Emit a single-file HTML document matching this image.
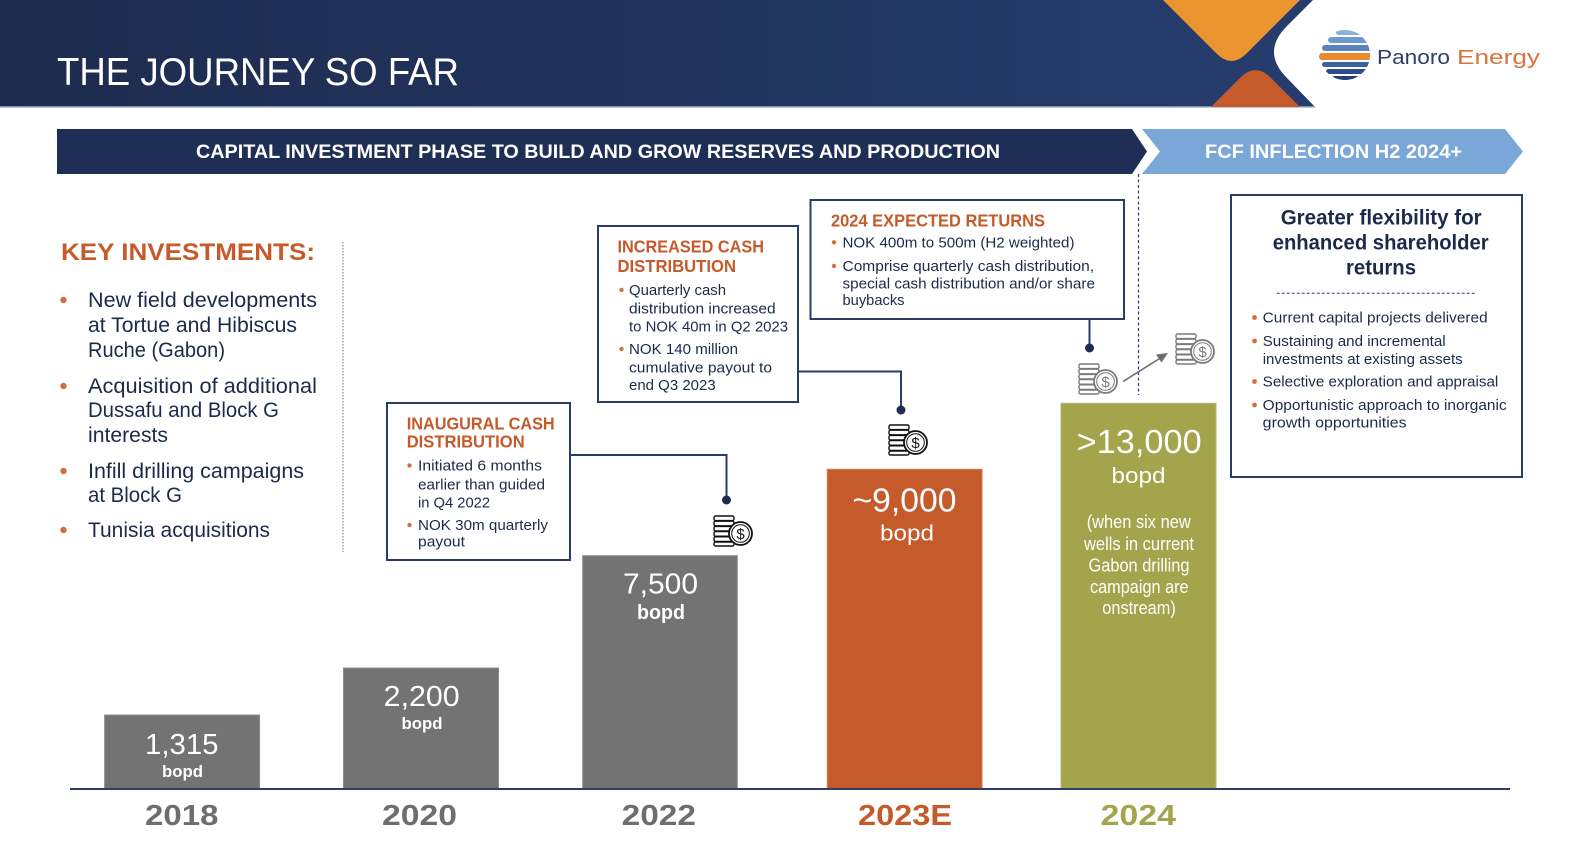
<!DOCTYPE html>
<html><head><meta charset="utf-8"><style>
html,body{margin:0;padding:0;background:#fff;}
svg{display:block;}
text{font-family:"Liberation Sans",sans-serif;}
</style></head><body>
<svg width="1590" height="859" viewBox="0 0 1590 859" xmlns="http://www.w3.org/2000/svg">
<defs>
<linearGradient id="hg" x1="0" y1="0" x2="1" y2="0">
<stop offset="0" stop-color="#1E2B4E"/><stop offset="0.8" stop-color="#253C6D"/><stop offset="1" stop-color="#263E70"/>
</linearGradient>
<clipPath id="globe"><circle cx="1345" cy="55" r="25"/></clipPath>
</defs>
<!-- header -->
<rect x="0" y="0" width="1590" height="107" fill="url(#hg)"/>
<rect x="0" y="106" width="1320" height="1.5" fill="#7F8DAE"/>
<path d="M1163,0 L1300,0 L1246.5,53.5 Q1231.5,68.5 1216.5,53.5 Z" fill="#EC9430"/>
<path d="M1211,107 L1240.5,77.5 Q1255.5,62.5 1270.5,77.5 L1300,107 Z" fill="#C55A2B"/>
<path d="M1313,0 L1590,0 L1590,108 L1316,108 L1287,78 Q1261,52 1287,26 Z" fill="#fff"/>
<text x="57" y="85" font-size="39" fill="#fff" textLength="402" lengthAdjust="spacingAndGlyphs">THE JOURNEY SO FAR</text>
<!-- logo -->
<g clip-path="url(#globe)">
<rect x="1336" y="30" width="40" height="5" rx="2.5" fill="#8DB0DC"/>
<rect x="1328" y="37" width="48" height="6" rx="3" fill="#6F9AD0"/>
<rect x="1322" y="45" width="54" height="6" rx="3" fill="#5A84C0"/>
<rect x="1318" y="53" width="58" height="7" rx="3.5" fill="#E98A2C"/>
<rect x="1322" y="62" width="54" height="5" rx="2.5" fill="#3A5FA2"/>
<rect x="1326" y="69" width="50" height="5" rx="2.5" fill="#2C4C8C"/>
<rect x="1332" y="76" width="44" height="5" rx="2.5" fill="#243E78"/>
</g>
<rect x="1319" y="53" width="20" height="7" rx="3.5" fill="#E98A2C"/>
<text x="1377" y="64" font-size="20" fill="#2D3E6B" textLength="73" lengthAdjust="spacingAndGlyphs">Panoro</text>
<text x="1457" y="64" font-size="20" fill="#D9733A" textLength="83" lengthAdjust="spacingAndGlyphs">Energy</text>
<!-- banners -->
<polygon points="57,129 1132,129 1147,151.5 1132,174 57,174" fill="#1F2E55"/>
<text x="196" y="158" font-size="19.5" font-weight="bold" fill="#fff" textLength="804" lengthAdjust="spacingAndGlyphs">CAPITAL INVESTMENT PHASE TO BUILD AND GROW RESERVES AND PRODUCTION</text>
<polygon points="1142,129 1505,129 1523,151.5 1505,174 1142,174 1160,151.5" fill="#7BA7D8"/>
<text x="1205" y="158" font-size="19.5" font-weight="bold" fill="#fff" textLength="257" lengthAdjust="spacingAndGlyphs">FCF INFLECTION H2 2024+</text>
<!-- key investments -->
<text x="61" y="260" font-size="24" font-weight="bold" fill="#C55A2B" textLength="254" lengthAdjust="spacingAndGlyphs">KEY INVESTMENTS:</text>
<g fill="#D0703D">
<circle cx="63.5" cy="300" r="3.2"/><circle cx="63.5" cy="386" r="3.2"/><circle cx="63.5" cy="471" r="3.2"/><circle cx="63.5" cy="530" r="3.2"/>
</g>
<g font-size="21" fill="#1C2A4A">
<text x="88" y="307" textLength="229" lengthAdjust="spacingAndGlyphs">New field developments</text>
<text x="88" y="332" textLength="209" lengthAdjust="spacingAndGlyphs">at Tortue and Hibiscus</text>
<text x="88" y="357" textLength="137" lengthAdjust="spacingAndGlyphs">Ruche (Gabon)</text>
<text x="88" y="393" textLength="229" lengthAdjust="spacingAndGlyphs">Acquisition of additional</text>
<text x="88" y="417" textLength="191" lengthAdjust="spacingAndGlyphs">Dussafu and Block G</text>
<text x="88" y="442" textLength="80" lengthAdjust="spacingAndGlyphs">interests</text>
<text x="88" y="478" textLength="216" lengthAdjust="spacingAndGlyphs">Infill drilling campaigns</text>
<text x="88" y="502" textLength="94" lengthAdjust="spacingAndGlyphs">at Block G</text>
<text x="88" y="537" textLength="182" lengthAdjust="spacingAndGlyphs">Tunisia acquisitions</text>
</g>
<line x1="343" y1="242" x2="343" y2="552" stroke="#6B7894" stroke-width="1" stroke-dasharray="1.5,1.5"/>
<!-- dotted vertical near 2024 -->
<line x1="1138.5" y1="174" x2="1138.5" y2="395" stroke="#2B3D66" stroke-width="1.2" stroke-dasharray="3,2.5"/>
<!-- connectors -->
<g stroke="#2B3D66" stroke-width="2" fill="none">
<polyline points="570,455 726.5,455 726.5,500"/>
<polyline points="798,371.5 901,371.5 901,410"/>
<polyline points="1089.5,319 1089.5,348"/>
</g>
<g fill="#1F2D52">
<circle cx="726.5" cy="500" r="4.5"/><circle cx="901" cy="410" r="4.5"/><circle cx="1089.5" cy="348" r="4.5"/>
</g>
<!-- boxes -->
<g fill="#fff" stroke="#2B3D66" stroke-width="2">
<rect x="387" y="403" width="183" height="157"/>
<rect x="598" y="226" width="200" height="176"/>
<rect x="810.5" y="200" width="313.5" height="119"/>
<rect x="1231" y="195" width="291" height="282"/>
</g>
<!-- inaugural -->
<g font-size="17.5" font-weight="bold" fill="#C55A2B">
<text x="406.7" y="429.3" textLength="148" lengthAdjust="spacingAndGlyphs">INAUGURAL CASH</text>
<text x="406.7" y="447.7" textLength="118" lengthAdjust="spacingAndGlyphs">DISTRIBUTION</text>
<text x="617.5" y="252.7" textLength="146.5" lengthAdjust="spacingAndGlyphs">INCREASED CASH</text>
<text x="617.5" y="272" textLength="118.5" lengthAdjust="spacingAndGlyphs">DISTRIBUTION</text>
<text x="831" y="226.5" textLength="214" lengthAdjust="spacingAndGlyphs">2024 EXPECTED RETURNS</text>
</g>
<g fill="#D0703D">
<circle cx="409.5" cy="465.5" r="2.2"/><circle cx="409.5" cy="525" r="2.2"/>
<circle cx="621.5" cy="290" r="2.2"/><circle cx="621.5" cy="349" r="2.2"/>
<circle cx="834" cy="242.3" r="2.2"/><circle cx="834" cy="266" r="2.2"/>
<circle cx="1254.5" cy="317.5" r="2.4"/><circle cx="1254.5" cy="341" r="2.4"/><circle cx="1254.5" cy="381.5" r="2.4"/><circle cx="1254.5" cy="405" r="2.4"/>
</g>
<g font-size="15" fill="#1C2A4A">
<text x="418" y="470.7" textLength="124" lengthAdjust="spacingAndGlyphs">Initiated 6 months</text>
<text x="418" y="489.3" textLength="127" lengthAdjust="spacingAndGlyphs">earlier than guided</text>
<text x="418" y="507.3" textLength="72" lengthAdjust="spacingAndGlyphs">in Q4 2022</text>
<text x="418" y="530" textLength="130" lengthAdjust="spacingAndGlyphs">NOK 30m quarterly</text>
<text x="418" y="546.7" textLength="47" lengthAdjust="spacingAndGlyphs">payout</text>

<text x="629" y="295" textLength="97" lengthAdjust="spacingAndGlyphs">Quarterly cash</text>
<text x="629" y="313.3" textLength="146.7" lengthAdjust="spacingAndGlyphs">distribution increased</text>
<text x="629" y="331.7" textLength="159" lengthAdjust="spacingAndGlyphs">to NOK 40m in Q2 2023</text>
<text x="629" y="354" textLength="109" lengthAdjust="spacingAndGlyphs">NOK 140 million</text>
<text x="629" y="372.3" textLength="143" lengthAdjust="spacingAndGlyphs">cumulative payout to</text>
<text x="629" y="390" textLength="86.7" lengthAdjust="spacingAndGlyphs">end Q3 2023</text>

<text x="842.5" y="247.3" textLength="232" lengthAdjust="spacingAndGlyphs">NOK 400m to 500m (H2 weighted)</text>
<text x="842.5" y="271" textLength="251.5" lengthAdjust="spacingAndGlyphs">Comprise quarterly cash distribution,</text>
<text x="842.5" y="288.3" textLength="252.5" lengthAdjust="spacingAndGlyphs">special cash distribution and/or share</text>
<text x="842.5" y="305" textLength="62" lengthAdjust="spacingAndGlyphs">buybacks</text>

<text x="1262.7" y="322.7" textLength="225" lengthAdjust="spacingAndGlyphs">Current capital projects delivered</text>
<text x="1262.7" y="346" textLength="183" lengthAdjust="spacingAndGlyphs">Sustaining and incremental</text>
<text x="1262.7" y="364" textLength="200" lengthAdjust="spacingAndGlyphs">investments at existing assets</text>
<text x="1262.7" y="386.7" textLength="235.6" lengthAdjust="spacingAndGlyphs">Selective exploration and appraisal</text>
<text x="1262.7" y="410" textLength="244" lengthAdjust="spacingAndGlyphs">Opportunistic approach to inorganic</text>
<text x="1262.7" y="427.3" textLength="144" lengthAdjust="spacingAndGlyphs">growth opportunities</text>
</g>
<g font-size="21" font-weight="bold" fill="#1C2A4A">
<text x="1280.7" y="224.3" textLength="201" lengthAdjust="spacingAndGlyphs">Greater flexibility for</text>
<text x="1272.7" y="249.3" textLength="216" lengthAdjust="spacingAndGlyphs">enhanced shareholder</text>
<text x="1346" y="274.3" textLength="70" lengthAdjust="spacingAndGlyphs">returns</text>
</g>
<line x1="1276.7" y1="293.3" x2="1476.7" y2="293.3" stroke="#2B3D66" stroke-width="1" stroke-dasharray="3,2"/>
<!-- coin icons -->
<g transform="translate(713,515)" stroke="#111" fill="#fff" stroke-width="1.4">
<rect x="1" y="1" width="20" height="4.6" rx="1.5"/><rect x="1" y="6.2" width="20" height="4.6" rx="1.5"/><rect x="1" y="11.4" width="20" height="4.6" rx="1.5"/><rect x="1" y="16.6" width="20" height="4.6" rx="1.5"/><rect x="1" y="21.8" width="20" height="4.6" rx="1.5"/><rect x="1" y="27" width="20" height="4" rx="1.5"/>
<circle cx="27.5" cy="18.5" r="11.5" stroke-width="1.8"/><circle cx="27.5" cy="18.5" r="8.8" stroke-width="1"/>
<text x="27.5" y="24" font-size="15" text-anchor="middle" fill="#111" stroke="none">$</text>
</g>
<g transform="translate(888,424)" stroke="#111" fill="#fff" stroke-width="1.4">
<rect x="1" y="1" width="20" height="4.6" rx="1.5"/><rect x="1" y="6.2" width="20" height="4.6" rx="1.5"/><rect x="1" y="11.4" width="20" height="4.6" rx="1.5"/><rect x="1" y="16.6" width="20" height="4.6" rx="1.5"/><rect x="1" y="21.8" width="20" height="4.6" rx="1.5"/><rect x="1" y="27" width="20" height="4" rx="1.5"/>
<circle cx="27.5" cy="18.5" r="11.5" stroke-width="1.8"/><circle cx="27.5" cy="18.5" r="8.8" stroke-width="1"/>
<text x="27.5" y="24" font-size="15" text-anchor="middle" fill="#111" stroke="none">$</text>
</g>
<g transform="translate(1078,363)" stroke="#7A7A7A" fill="#fff" stroke-width="1.4">
<rect x="1" y="1" width="20" height="4.6" rx="1.5"/><rect x="1" y="6.2" width="20" height="4.6" rx="1.5"/><rect x="1" y="11.4" width="20" height="4.6" rx="1.5"/><rect x="1" y="16.6" width="20" height="4.6" rx="1.5"/><rect x="1" y="21.8" width="20" height="4.6" rx="1.5"/><rect x="1" y="27" width="20" height="4" rx="1.5"/>
<circle cx="27.5" cy="18.5" r="11.5" stroke-width="1.8"/><circle cx="27.5" cy="18.5" r="8.8" stroke-width="1"/>
<text x="27.5" y="24" font-size="15" text-anchor="middle" fill="#7A7A7A" stroke="none">$</text>
</g>
<g transform="translate(1175,333)" stroke="#7A7A7A" fill="#fff" stroke-width="1.4">
<rect x="1" y="1" width="20" height="4.6" rx="1.5"/><rect x="1" y="6.2" width="20" height="4.6" rx="1.5"/><rect x="1" y="11.4" width="20" height="4.6" rx="1.5"/><rect x="1" y="16.6" width="20" height="4.6" rx="1.5"/><rect x="1" y="21.8" width="20" height="4.6" rx="1.5"/><rect x="1" y="27" width="20" height="4" rx="1.5"/>
<circle cx="27.5" cy="18.5" r="11.5" stroke-width="1.8"/><circle cx="27.5" cy="18.5" r="8.8" stroke-width="1"/>
<text x="27.5" y="24" font-size="15" text-anchor="middle" fill="#7A7A7A" stroke="none">$</text>
</g>
<!-- arrow -->
<line x1="1123" y1="381.5" x2="1162" y2="357" stroke="#6E6E6E" stroke-width="1.6"/>
<polygon points="1168,353 1156,354.5 1161.5,362.5" fill="#6E6E6E"/>
<!-- bars -->
<g stroke-width="1">
<rect x="104.6" y="715" width="155" height="74" fill="#737373" stroke="#8C8C8C"/>
<rect x="343.5" y="668" width="155" height="121" fill="#737373" stroke="#8C8C8C"/>
<rect x="582.7" y="555.7" width="154.6" height="233.3" fill="#737373" stroke="#8C8C8C"/>
<rect x="827.3" y="469.3" width="154.7" height="319.7" fill="#C55A2B" stroke="#D27A52"/>
<rect x="1061" y="403.3" width="155" height="385.7" fill="#A3A44C" stroke="#B5B66A"/>
</g>
<line x1="70" y1="789" x2="1510" y2="789" stroke="#2D3E63" stroke-width="2"/>
<!-- bar labels -->
<g fill="#fff">
<text x="145" y="754" font-size="29" textLength="73.5" lengthAdjust="spacingAndGlyphs">1,315</text>
<text x="162" y="777" font-size="16.5" font-weight="bold" textLength="41" lengthAdjust="spacingAndGlyphs">bopd</text>
<text x="383.7" y="706" font-size="29" textLength="76" lengthAdjust="spacingAndGlyphs">2,200</text>
<text x="401.5" y="729" font-size="16.5" font-weight="bold" textLength="41" lengthAdjust="spacingAndGlyphs">bopd</text>
<text x="623" y="593.3" font-size="29" textLength="75" lengthAdjust="spacingAndGlyphs">7,500</text>
<text x="637" y="619" font-size="20" font-weight="bold" textLength="48" lengthAdjust="spacingAndGlyphs">bopd</text>
<text x="852.5" y="511.7" font-size="33" textLength="104" lengthAdjust="spacingAndGlyphs">~9,000</text>
<text x="880" y="540.7" font-size="22" textLength="54" lengthAdjust="spacingAndGlyphs">bopd</text>
<text x="1076.7" y="453" font-size="33" textLength="125" lengthAdjust="spacingAndGlyphs">&gt;13,000</text>
<text x="1111.5" y="483" font-size="22" textLength="54" lengthAdjust="spacingAndGlyphs">bopd</text>
<g font-size="18.5">
<text x="1086.7" y="528" textLength="104" lengthAdjust="spacingAndGlyphs">(when six new</text>
<text x="1084" y="550" textLength="110" lengthAdjust="spacingAndGlyphs">wells in current</text>
<text x="1088.5" y="571.7" textLength="101" lengthAdjust="spacingAndGlyphs">Gabon drilling</text>
<text x="1090" y="593" textLength="98.6" lengthAdjust="spacingAndGlyphs">campaign are</text>
<text x="1102.3" y="614" textLength="73.5" lengthAdjust="spacingAndGlyphs">onstream)</text>
</g>
</g>
<!-- years -->
<g font-size="29" font-weight="bold">
<text x="145" y="825" fill="#6E6E6E" textLength="73.5" lengthAdjust="spacingAndGlyphs">2018</text>
<text x="382" y="825" fill="#6E6E6E" textLength="75" lengthAdjust="spacingAndGlyphs">2020</text>
<text x="621.6" y="825" fill="#6E6E6E" textLength="74.4" lengthAdjust="spacingAndGlyphs">2022</text>
<text x="858" y="825" fill="#C55A2B" textLength="94" lengthAdjust="spacingAndGlyphs">2023E</text>
<text x="1100.5" y="825" fill="#A3A44C" textLength="75.5" lengthAdjust="spacingAndGlyphs">2024</text>
</g>
</svg>
</body></html>
